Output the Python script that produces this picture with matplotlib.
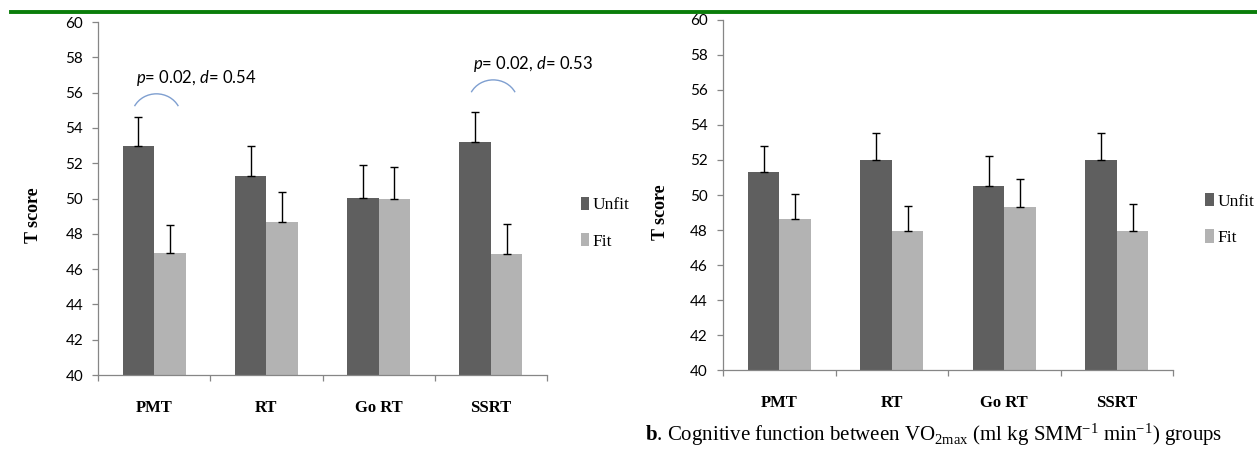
import numpy as np
import matplotlib.pyplot as plt
from matplotlib.patches import Arc
from matplotlib.lines import Line2D

plt.rcParams['mathtext.fontset'] = 'custom'
plt.rcParams['mathtext.rm'] = 'Liberation Serif'
plt.rcParams['mathtext.it'] = 'Lato:italic'
plt.rcParams['mathtext.bf'] = 'Liberation Serif:bold'

categories = ['PMT', 'RT', 'Go RT', 'SSRT']
groups = ['Unfit', 'Fit']

# panel a
a_unfit = [53.0, 51.26, 50.04, 53.18]
a_unfit_err = [1.63, 1.74, 1.84, 1.70]
a_fit = [46.93, 48.66, 49.96, 46.84]
a_fit_err = [1.55, 1.72, 1.80, 1.69]
a_sig_cat = [0, 3]
a_sig_peak = [55.93, 56.72]
a_sig_text = [r'$\mathit{p}$= 0.02, $\mathit{d}$= 0.54',
              r'$\mathit{p}$= 0.02, $\mathit{d}$= 0.53']

# panel b
b_unfit = [51.32, 52.0, 50.54, 52.0]
b_unfit_err = [1.47, 1.55, 1.71, 1.55]
b_fit = [48.63, 47.92, 49.31, 47.92]
b_fit_err = [1.45, 1.45, 1.63, 1.55]

c_unfit = '#5f5f5f'
c_fit = '#b3b3b3'
c_axis = '#868686'
sans = ['Lato', 'DejaVu Sans']
serif = ['Liberation Serif', 'DejaVu Serif']


def panel(ax, unfit, unfit_err, fit, fit_err, label_x, leg_x):
    x = np.arange(len(categories))
    w = 0.28
    for vals, errs, col, off, lab in [(unfit, unfit_err, c_unfit, -w / 2, groups[0]),
                                      (fit, fit_err, c_fit, w / 2, groups[1])]:
        ax.bar(x + off, vals, w, color=col, label=lab, zorder=2)
        ax.errorbar(x + off, vals, yerr=[np.zeros(len(vals)), errs], fmt='none',
                    ecolor='black', elinewidth=1.0, capsize=3, capthick=1.0, zorder=3)
    ax.set_ylim(40, 60)
    ax.set_xlim(-0.5, len(categories) - 0.5)
    ax.set_yticks(np.arange(40, 61, 2))
    ax.set_yticklabels([str(v) for v in range(40, 61, 2)], fontfamily=sans, fontsize=11)
    ax.set_xticks(np.arange(-0.5, len(categories)), [''] * (len(categories) + 1))
    ax.set_xticks(x, categories, minor=True, fontfamily=serif, fontweight='bold', fontsize=12)
    ax.tick_params(axis='x', which='minor', length=0, pad=18)
    ax.tick_params(axis='x', which='major', length=4.5, color=c_axis, width=0.9)
    ax.tick_params(axis='y', length=4.3, color=c_axis, width=0.9, pad=6.5)
    for s in ['top', 'right']:
        ax.spines[s].set_visible(False)
    for s in ['left', 'bottom']:
        ax.spines[s].set_color(c_axis)
        ax.spines[s].set_linewidth(0.9)
    ax.set_ylabel('T score', fontfamily=serif, fontweight='bold', fontsize=13)
    ax.yaxis.set_label_coords(label_x, 0.452)
    ax.legend(loc='center left', bbox_to_anchor=(leg_x, 0.43), frameon=False,
              prop={'family': serif, 'size': 12.5}, handlelength=0.5, handleheight=0.8,
              handletextpad=0.2, labelspacing=1.15, borderpad=0, borderaxespad=0)


fig = plt.figure(figsize=(12.57, 4.49), dpi=100)
ax1 = fig.add_axes([0.078, 0.1648, 0.3572, 0.7862])
ax2 = fig.add_axes([0.5752, 0.1759, 0.358, 0.7796])

panel(ax1, a_unfit, a_unfit_err, a_fit, a_fit_err, -0.125, 1.075)
panel(ax2, b_unfit, b_unfit_err, b_fit, b_fit_err, -0.12, 1.071)

for cat, peak, txt in zip(a_sig_cat, a_sig_peak, a_sig_text):
    arc = Arc((cat + 0.02, peak - 1.3), 0.44, 2.6, theta1=72, theta2=108,
              color='#7f9fd0', lw=1.0, zorder=4)
    ax1.add_patch(arc)
    ax1.text(cat - 0.16, peak + 0.88, txt, ha='left', va='center',
             fontfamily=sans, fontsize=12, clip_on=False)

# green rule at the top of the page
fig.add_artist(Line2D([0.009, 1.0], [0.974, 0.974], color='#0a7d0a', lw=2.8))

fig.text(0.513, 0.018, r'$\mathbf{b}$. Cognitive function between VO$_{2\mathrm{max}}$ '
         r'(ml kg SMM$^{\mathrm{-1}}$ min$^{\mathrm{-1}}$) groups',
         fontfamily=serif, fontsize=15, va='baseline', ha='left')

fig.savefig('out.png', dpi=100)
